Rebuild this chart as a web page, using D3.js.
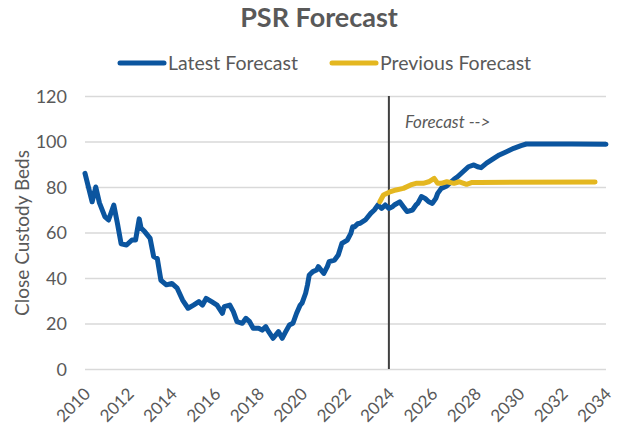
<!DOCTYPE html>
<html>
<head>
<meta charset="utf-8">
<script src="https://cdn.jsdelivr.net/npm/d3@7"></script>
<style>
  body { margin: 0; background: #fff; }
  text { font-family: Lato, "Liberation Sans", Arial, sans-serif; fill: #595959; }
</style>
</head>
<body>
<script>
// Latest forecast (monthly points)
const latestDates = [
  '2010-01','2010-05','2010-07','2010-09','2010-12','2011-02','2011-05','2011-07','2011-09','2011-12',
  '2012-03','2012-05','2012-07','2012-08','2012-10','2013-01','2013-03','2013-05','2013-07','2013-10',
  '2014-01','2014-04','2014-07','2014-10','2015-01','2015-04','2015-06','2015-08','2015-11','2016-02',
  '2016-05','2016-06','2016-09','2016-11','2017-01','2017-04','2017-06','2017-08','2017-10','2018-01',
  '2018-03','2018-05','2018-06','2018-09','2018-12','2019-02','2019-04','2019-06','2019-08','2019-10',
  '2019-12','2020-01','2020-03','2020-04','2020-05','2020-07','2020-09','2020-10','2021-01','2021-03',
  '2021-04','2021-07','2021-09','2021-11','2022-02','2022-04','2022-05','2022-06','2022-08','2022-09',
  '2022-12','2023-03','2023-05','2023-07','2023-09','2023-11','2024-01','2024-03','2024-04','2024-07',
  '2024-09','2024-11','2025-02','2025-04','2025-05','2025-07','2025-09','2025-11','2026-01','2026-03',
  '2026-04','2026-06','2026-09','2027-01','2027-03','2027-06','2027-09','2027-12','2028-02','2028-04',
  '2028-07','2028-11','2029-02','2029-06','2029-10','2030-02','2030-05','2031-01','2032-06','2034-01'
];
const latestValues = [
  86, 73.5, 80, 73, 67, 65.5, 72, 64, 55, 54.5,
  56.7, 56.7, 66, 62, 60.4, 57.4, 49.4, 48.6, 39, 37,
  37.6, 35.5, 30.3, 26.7, 28.1, 29.6, 28.1, 31, 29.6, 28.1,
  24.5, 27.4, 28.1, 25.2, 20.8, 20.1, 22.3, 20.8, 17.9, 17.9,
  17.1, 18.6, 17.1, 13.5, 16.4, 13.5, 16.4, 19.3, 20.1, 24.5,
  28.1, 29, 33.3, 36.9, 41.3, 42.8, 43.5, 45, 42, 45,
  47.2, 47.9, 50.1, 55.2, 56.7, 59.6, 62.5, 62.5, 64, 64,
  65.5, 68.4, 69.9, 72.1, 70.6, 72.1, 70.6, 71.3, 72.1, 73.5,
  71.3, 69.2, 69.9, 72.1, 72.8, 75.8, 75, 73.5, 72.8, 75,
  77.2, 79.4, 80.5, 83.4, 84.5, 86.7, 88.9, 89.7, 88.9, 88.5,
  90.5, 92.6, 94.1, 95.5, 97, 98.2, 98.9, 98.9, 98.9, 98.8
];

// Previous forecast
const previousDates = [
  '2023-08','2023-10','2024-02','2024-05','2024-09','2025-01','2025-04','2025-08','2025-11','2026-02',
  '2026-04','2026-06','2026-09','2027-01','2027-04','2027-08','2027-11','2028-03','2033-07'
];
const previousValues = [
  73.5, 76.5, 78, 78.7, 79.4, 80.9, 81.6, 81.6, 82.3, 83.8,
  81.6, 81.6, 82.3, 81.6, 82.3, 81.2, 82, 82, 82.2
];

const yTicks = [0, 20, 40, 60, 80, 100, 120];
const xTickYears = [2010, 2012, 2014, 2016, 2018, 2020, 2022, 2024, 2026, 2028, 2030, 2032, 2034];
const forecastStart = '2024-01';

const w = 618, h = 431;
const plotLeft = 85, plotRight = 606, plotTop = 96, plotBottom = 369;
const parse = d3.timeParse('%Y-%m');

const latest = latestDates.map((d, i) => ({ date: parse(d), value: latestValues[i] }));
const previous = previousDates.map((d, i) => ({ date: parse(d), value: previousValues[i] }));

const svg = d3.select('body').append('svg').attr('width', w).attr('height', h);

const x = d3.scaleTime()
  .domain([new Date(2010, 0, 1), new Date(2034, 0, 1)])
  .range([plotLeft, plotRight]);
const y = d3.scaleLinear().domain([0, 120]).range([plotBottom, plotTop]);

// gridlines + y labels
const yAxis = svg.append('g')
  .attr('transform', `translate(${plotLeft},0)`)
  .call(d3.axisLeft(y).tickValues(yTicks).tickSize(-(plotRight - plotLeft)).tickPadding(18));
yAxis.select('.domain').remove();
yAxis.selectAll('line').attr('stroke', '#d9d9d9').attr('stroke-width', 1.5);
yAxis.selectAll('text')
  .style('font-size', '18px')
  .attr('fill', '#595959')
  .attr('dy', '0.35em');

// x labels
const xAxis = svg.append('g')
  .attr('transform', `translate(0,${plotBottom})`)
  .call(d3.axisBottom(x).tickValues(xTickYears.map(yr => new Date(yr, 0, 1)))
    .tickSize(0).tickFormat(d3.timeFormat('%Y')));
xAxis.select('.domain').remove();
xAxis.selectAll('text')
  .style('font-size', '17px')
  .attr('fill', '#595959')
  .attr('text-anchor', 'end')
  .attr('dy', null)
  .attr('y', 0)
  .attr('transform', 'translate(6,26) rotate(-45)');

// forecast divider
const fx = x(parse(forecastStart));
svg.append('line')
  .attr('x1', fx).attr('x2', fx)
  .attr('y1', plotTop).attr('y2', plotBottom)
  .attr('stroke', '#404040').attr('stroke-width', 2);
svg.append('text')
  .attr('x', fx + 16).attr('y', 128)
  .style('font-size', '17px').style('font-style', 'italic')
  .text('Forecast -->');

// lines
const line = d3.line().x(d => x(d.date)).y(d => y(d.value));
svg.append('path').datum(latest)
  .attr('fill', 'none').attr('stroke', '#0B559F').attr('stroke-width', 5)
  .attr('stroke-linejoin', 'round').attr('stroke-linecap', 'round')
  .attr('d', line);
svg.append('path').datum(previous)
  .attr('fill', 'none').attr('stroke', '#E4B720').attr('stroke-width', 5)
  .attr('stroke-linejoin', 'round').attr('stroke-linecap', 'round')
  .attr('d', line);

// title
svg.append('text')
  .attr('x', 319).attr('y', 27)
  .attr('text-anchor', 'middle')
  .style('font-size', '27px').style('font-weight', 'bold')
  .text('PSR Forecast');

// legend
const legend = [
  { name: 'Latest Forecast', color: '#0B559F', x: 120 },
  { name: 'Previous Forecast', color: '#E4B720', x: 332 }
];
legend.forEach(l => {
  svg.append('line')
    .attr('x1', l.x).attr('x2', l.x + 44)
    .attr('y1', 63).attr('y2', 63)
    .attr('stroke', l.color).attr('stroke-width', 5).attr('stroke-linecap', 'round');
  svg.append('text')
    .attr('x', l.x + 48).attr('y', 70)
    .style('font-size', '19.5px')
    .text(l.name);
});

// y axis title
svg.append('text')
  .attr('transform', 'translate(29,233) rotate(-90)')
  .attr('text-anchor', 'middle')
  .style('font-size', '19px')
  .text('Close Custody Beds');
</script>
</body>
</html>
